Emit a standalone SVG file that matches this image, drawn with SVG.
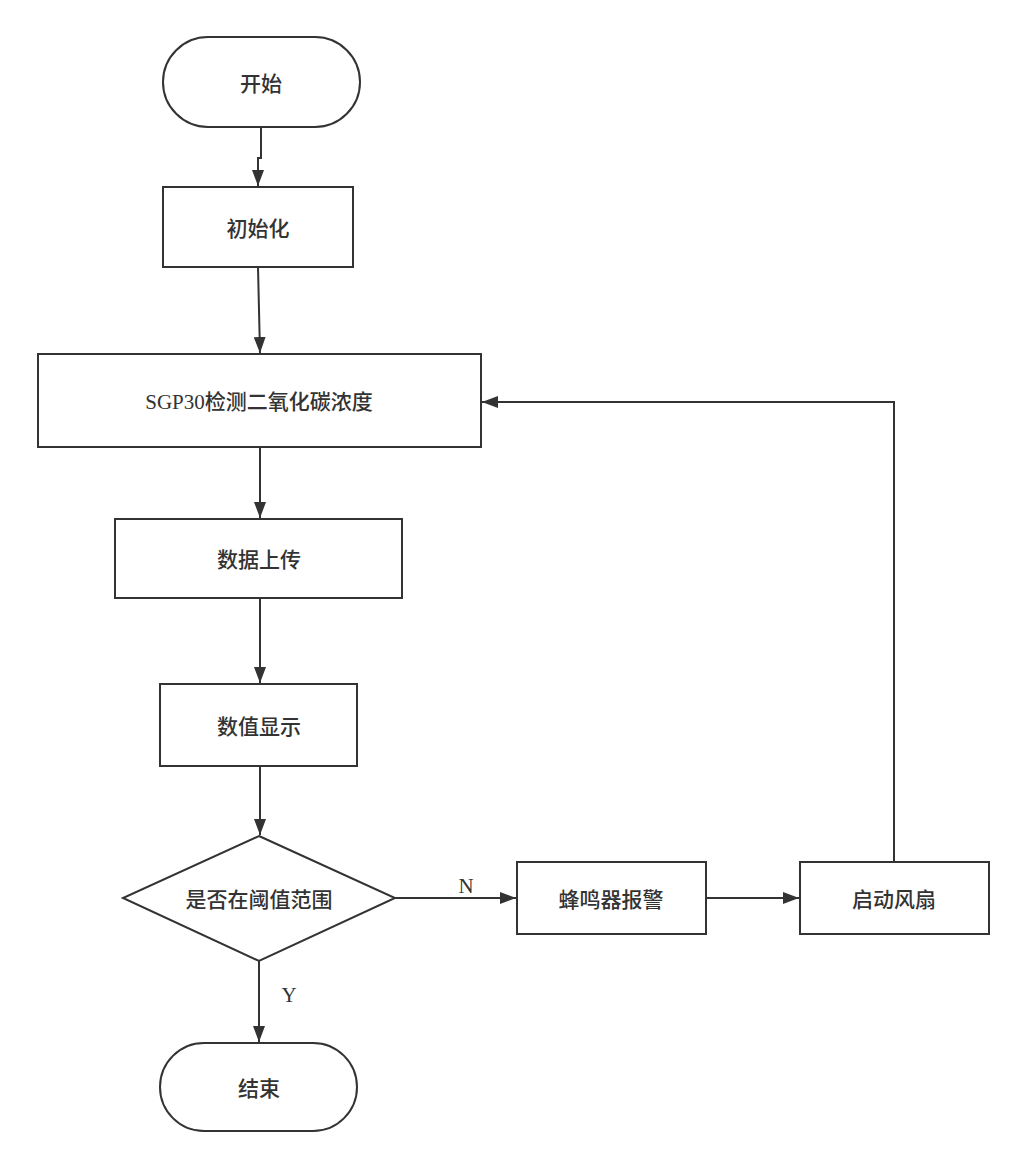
<svg xmlns="http://www.w3.org/2000/svg" width="1025" height="1170" viewBox="0 0 1025 1170">
<style>
.n{fill:#fff;stroke:#333;stroke-width:2}
.t{font-family:"Noto Sans CJK SC",sans-serif;font-size:21px;font-weight:500;fill:#333;text-anchor:middle;dominant-baseline:central}
.s{font-family:"Liberation Serif","Noto Sans CJK SC",serif;font-size:21px;font-weight:500;fill:#333;text-anchor:middle;dominant-baseline:central}
.c{fill:none;stroke:#333;stroke-width:2}
</style>
<defs>
<marker id="a" viewBox="0 0 16 12" refX="16" refY="6" markerWidth="16" markerHeight="12" markerUnits="userSpaceOnUse" orient="auto"><path d="M0,0 L16,6 L0,12 z" fill="#333"/></marker>
</defs>
<rect width="1025" height="1170" fill="#fff"/>
<g id="connectors">
<path class="c" d="M261,127 V158 H258 V186" marker-end="url(#a)"/>
<path class="c" d="M258,267 L260,353" marker-end="url(#a)"/>
<path class="c" d="M260,447 V518" marker-end="url(#a)"/>
<path class="c" d="M260,598 V683" marker-end="url(#a)"/>
<path class="c" d="M260,766 V835" marker-end="url(#a)"/>
<path class="c" d="M395,898 H516" marker-end="url(#a)"/>
<path class="c" d="M706,898 H799" marker-end="url(#a)"/>
<path class="c" d="M894,862 V402 H482" marker-end="url(#a)"/>
<path class="c" d="M259,961 V1042" marker-end="url(#a)"/>
<text class="s" x="466" y="886">N</text>
<text class="s" x="289" y="995">Y</text>
</g>
<g id="start"><rect class="n" x="163" y="37" width="197" height="90" rx="45"/><text class="t" x="261" y="82">开始</text></g>
<g id="init"><rect class="n" x="163" y="187" width="190" height="80"/><text class="t" x="258" y="227">初始化</text></g>
<g id="detect"><rect class="n" x="38" y="354" width="443" height="93"/><text class="s" x="259" y="402">SGP30检测二氧化碳浓度</text></g>
<g id="upload"><rect class="n" x="115" y="519" width="287" height="79"/><text class="t" x="259" y="558">数据上传</text></g>
<g id="display"><rect class="n" x="160" y="684" width="197" height="82"/><text class="t" x="259" y="725">数值显示</text></g>
<g id="decision"><polygon class="n" points="259,836 395,898 259,961 123,898"/><text class="t" x="259" y="898">是否在阈值范围</text></g>
<g id="buzzer"><rect class="n" x="517" y="862" width="189" height="72"/><text class="t" x="611" y="898">蜂鸣器报警</text></g>
<g id="fan"><rect class="n" x="800" y="862" width="189" height="72"/><text class="t" x="894" y="898">启动风扇</text></g>
<g id="end"><rect class="n" x="160" y="1043" width="197" height="88" rx="44"/><text class="t" x="259" y="1087">结束</text></g>
</svg>
